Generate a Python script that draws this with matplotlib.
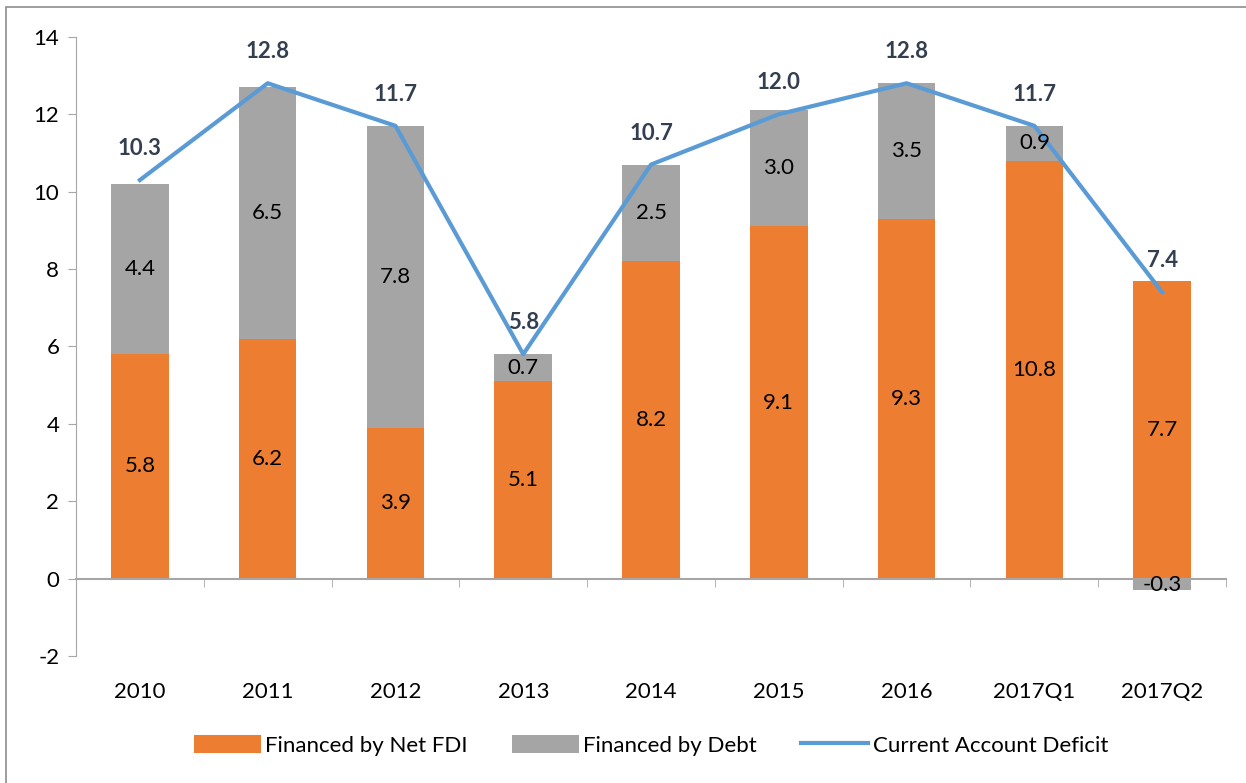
import numpy as np
import matplotlib
matplotlib.use('Agg')
import matplotlib.pyplot as plt
from matplotlib.patches import Rectangle

plt.rcParams['font.family'] = ['Lato', 'DejaVu Sans']
plt.rcParams['axes.unicode_minus'] = False

# data
periods = ['2010', '2011', '2012', '2013', '2014', '2015', '2016', '2017Q1', '2017Q2']
net_fdi = [5.8, 6.2, 3.9, 5.1, 8.2, 9.1, 9.3, 10.8, 7.7]
debt = [4.4, 6.5, 7.8, 0.7, 2.5, 3.0, 3.5, 0.9, -0.3]
cad = [10.3, 12.8, 11.7, 5.8, 10.7, 12.0, 12.8, 11.7, 7.4]

orange = '#ED7D31'
grey = '#A5A5A5'
blue = '#5B9BD5'
axcol = '#A6A6A6'

fig = plt.figure(figsize=(12.46, 7.83), dpi=100)
ax = fig.add_axes([0.061, 0.162, 0.923, 0.791])

x = np.arange(len(periods))
fdi = np.array(net_fdi)
dbt = np.array(debt)
bottoms = np.where(dbt > 0, fdi, 0)

b1 = ax.bar(x, fdi, width=0.45, color=orange, label='Financed by Net FDI', zorder=2)
b2 = ax.bar(x, dbt, width=0.45, bottom=bottoms, color=grey, label='Financed by Debt', zorder=2)
ln, = ax.plot(x, cad, color=blue, lw=3, label='Current Account Deficit', zorder=3)

# segment labels
for i in range(len(x)):
    ax.text(x[i], fdi[i] / 2, '%.1f' % fdi[i], ha='center', va='center', fontsize=16, color='black', zorder=4)
    ax.text(x[i], bottoms[i] + dbt[i] / 2, '%.1f' % dbt[i], ha='center', va='center', fontsize=16, color='black', zorder=4)
    ax.annotate('%.1f' % cad[i], (x[i], cad[i]), xytext=(0, 15), textcoords='offset points',
                ha='center', va='bottom', fontsize=16, fontweight='bold', color='#333F50', zorder=4)

ax.set_xlim(-0.5, len(x) - 0.5)
ax.set_ylim(-2, 14)
ax.set_yticks(np.arange(-2, 15, 2))

for s in ['top', 'right']:
    ax.spines[s].set_visible(False)
ax.spines['left'].set_color(axcol)
ax.spines['bottom'].set_color(axcol)
ax.spines['bottom'].set_linewidth(1.5)
ax.spines['bottom'].set_position(('data', 0))

ax.set_xticks(x)
ax.set_xticklabels(periods)
ax.set_xticks(np.arange(-0.5, len(x), 1), minor=True)
ax.tick_params(axis='x', which='major', length=0, pad=74, labelsize=16)
ax.tick_params(axis='x', which='minor', length=6, color=axcol, direction='out')
ax.tick_params(axis='y', length=6, color=axcol, labelsize=16, pad=6)

ax.legend(handles=[b1, b2, ln], loc='upper center', bbox_to_anchor=(0.5, -0.095), ncol=3,
          frameon=False, fontsize=16, handlelength=3.0, handleheight=0.9,
          columnspacing=2.0, handletextpad=0.2)

# outer chart border
fig.patches.append(Rectangle((0.005, -0.05), 1.1, 1.041, transform=fig.transFigure,
                             fill=False, edgecolor='#8C8C8C', lw=1.2))

fig.savefig('out.png', dpi=100)
